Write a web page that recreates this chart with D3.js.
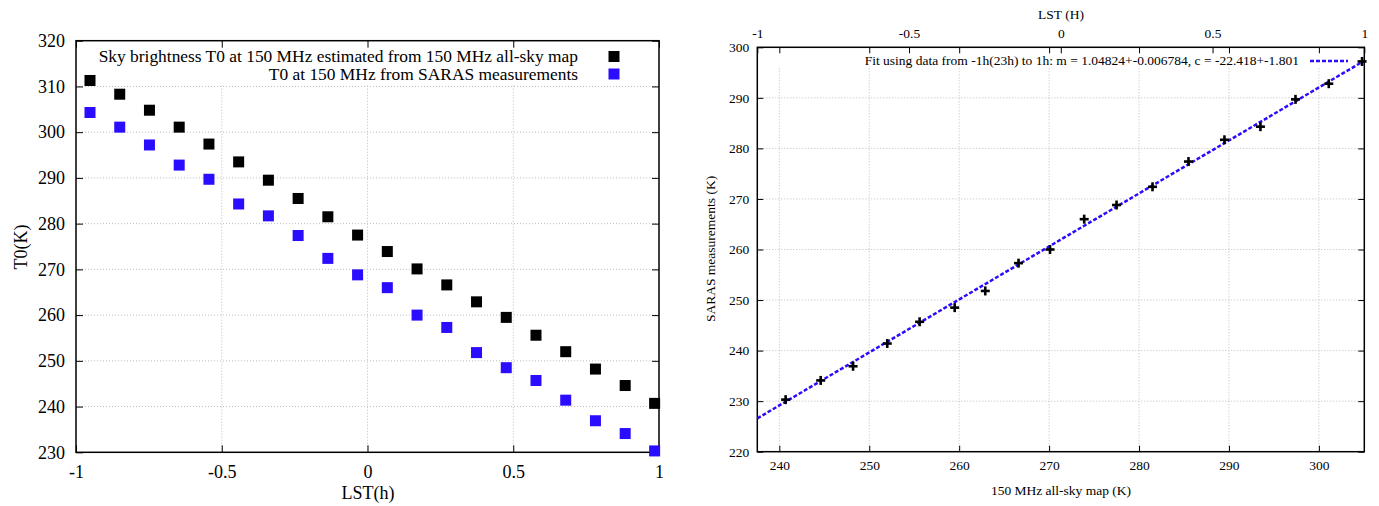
<!DOCTYPE html>
<html>
<head>
<meta charset="utf-8">
<script src="https://cdn.jsdelivr.net/npm/d3@7"></script>
<style>
  body { margin: 0; background: #fff; }
  svg { display: block; font-family: "Liberation Serif", "DejaVu Serif", serif; }
  .grid line { stroke: #bdbdbd; stroke-width: 1; stroke-dasharray: 1,2; }
</style>
</head>
<body>
<div id="chart-area"></div>
<script>
// LST (h) of each measurement
const LST = [-0.952, -0.850, -0.748, -0.646, -0.544, -0.442, -0.340, -0.238, -0.136, -0.034,
             0.068, 0.170, 0.272, 0.374, 0.476, 0.578, 0.680, 0.782, 0.884, 0.985]
// T0 from the 150 MHz all-sky map
const MAP_T0 = [311.3, 308.3, 304.8, 301.1, 297.4, 293.5, 289.5, 285.5, 281.5, 277.5,
                273.9, 270.1, 266.6, 262.9, 259.5, 255.6, 252.0, 248.2, 244.6, 240.7]
// T0 from SARAS
const SARAS_T0 = [304.3, 301.1, 297.2, 292.8, 289.7, 284.3, 281.7, 277.4, 272.4, 268.8,
                  266.0, 260.0, 257.3, 251.8, 248.5, 245.7, 241.4, 236.9, 234.1, 230.3]
// fit parameters from the key
const FIT_M = 1.04824
const FIT_C = -22.418

const LEFT_X_TICKS = [-1, -0.5, 0, 0.5, 1]
const LEFT_Y_TICKS = [230, 240, 250, 260, 270, 280, 290, 300, 310, 320]
const RIGHT_X_TICKS = [240, 250, 260, 270, 280, 290, 300]
const RIGHT_Y_TICKS = [220, 230, 240, 250, 260, 270, 280, 290, 300]
const LST_TICKS = [-1, -0.5, 0, 0.5, 1]

const BLUE = "#2a0cff"
const W = 1379, H = 506
const FS_L = 18, FS_R = 13.5

// plain hyphen minus, like gnuplot
const fmt = d => String(d)

const svg = d3.select('#chart-area')
    .append('svg')
    .attr('width', W)
    .attr('height', H)

// ---------- left panel ----------
const L = { left: 76, right: 659, top: 40.7, bottom: 452.3 }
const xL = d3.scaleLinear().domain([-1, 1]).range([L.left, L.right])
const yL = d3.scaleLinear().domain([230, 320]).range([L.bottom, L.top])

const gL = svg.append('g')

gL.append('g').attr('class', 'grid')
  .selectAll('line').data(LEFT_X_TICKS.slice(1, -1)).enter().append('line')
  .attr('x1', d => xL(d)).attr('x2', d => xL(d))
  .attr('y1', L.top).attr('y2', L.bottom)
gL.append('g').attr('class', 'grid')
  .selectAll('line').data(LEFT_Y_TICKS.slice(1, -1)).enter().append('line')
  .attr('x1', L.left).attr('x2', L.right)
  .attr('y1', d => yL(d)).attr('y2', d => yL(d))

// opaque key box
gL.append('rect')
  .attr('x', L.left + 1).attr('y', L.top + 1)
  .attr('width', L.right - L.left - 2).attr('height', 43)
  .attr('fill', '#fff')

function styleAxis(g, size) {
  g.select('.domain').remove()
  g.selectAll('.tick line').attr('stroke', '#000').attr('stroke-width', 1)
  g.selectAll('.tick text').attr('fill', '#000').attr('font-size', size)
    .style('font-family', '"Liberation Serif", serif')
}

gL.append('g')
  .attr('transform', `translate(0, ${L.bottom})`)
  .call(d3.axisBottom(xL).tickValues(LEFT_X_TICKS).tickFormat(fmt).tickSizeInner(-7).tickSizeOuter(0).tickPadding(12.5))
  .call(g => styleAxis(g, FS_L))
gL.append('g')
  .attr('transform', `translate(0, ${L.top})`)
  .call(d3.axisTop(xL).tickValues(LEFT_X_TICKS).tickFormat('').tickSizeInner(-7).tickSizeOuter(0))
  .call(g => styleAxis(g, FS_L))
gL.append('g')
  .attr('transform', `translate(${L.left}, 0)`)
  .call(d3.axisLeft(yL).tickValues(LEFT_Y_TICKS).tickFormat(fmt).tickSizeInner(-7).tickSizeOuter(0).tickPadding(11))
  .call(g => styleAxis(g, FS_L))
gL.append('g')
  .attr('transform', `translate(${L.right}, 0)`)
  .call(d3.axisRight(yL).tickValues(LEFT_Y_TICKS).tickFormat('').tickSizeInner(-7).tickSizeOuter(0))
  .call(g => styleAxis(g, FS_L))

gL.append('rect')
  .attr('x', L.left).attr('y', L.top)
  .attr('width', L.right - L.left).attr('height', L.bottom - L.top)
  .attr('fill', 'none').attr('stroke', '#000').attr('stroke-width', 1.5)

const SQ = 11
gL.selectAll('rect.map').data(MAP_T0).enter().append('rect')
  .attr('class', 'map')
  .attr('x', (d, i) => xL(LST[i]) - SQ / 2).attr('y', d => yL(d) - SQ / 2)
  .attr('width', SQ).attr('height', SQ).attr('fill', '#000')
gL.selectAll('rect.saras').data(SARAS_T0).enter().append('rect')
  .attr('class', 'saras')
  .attr('x', (d, i) => xL(LST[i]) - SQ / 2).attr('y', d => yL(d) - SQ / 2)
  .attr('width', SQ).attr('height', SQ).attr('fill', BLUE)

// key
const keyL = [
  { label: 'Sky brightness T0 at 150 MHz estimated from 150 MHz all-sky map', color: '#000', y: 56.5 },
  { label: 'T0 at 150 MHz from SARAS measurements', color: BLUE, y: 74 }
]
keyL.forEach(k => {
  gL.append('text').attr('x', 578).attr('y', k.y).attr('dy', '0.33em')
    .attr('text-anchor', 'end').attr('font-size', 17.4).text(k.label)
  gL.append('rect').attr('x', 614 - SQ / 2).attr('y', k.y - SQ / 2)
    .attr('width', SQ).attr('height', SQ).attr('fill', k.color)
})

gL.append('text').attr('x', 368).attr('y', 493).attr('dy', '0.33em')
  .attr('text-anchor', 'middle').attr('font-size', FS_L).text('LST(h)')
gL.append('text').attr('transform', 'translate(21, 247) rotate(-90)').attr('dy', '0.33em')
  .attr('text-anchor', 'middle').attr('font-size', FS_L).text('T0(K)')

// ---------- right panel ----------
const R = { left: 757.3, right: 1364.3, top: 47.3, bottom: 451.7 }
const xR = d3.scaleLinear().domain([237.55, 305.05]).range([R.left, R.right])
const x2R = d3.scaleLinear().domain([-1, 1]).range([R.left, R.right])
const yR = d3.scaleLinear().domain([220, 300]).range([R.bottom, R.top])

const gR = svg.append('g')

gR.append('g').attr('class', 'grid')
  .selectAll('line').data(RIGHT_X_TICKS).enter().append('line')
  .attr('x1', d => xR(d)).attr('x2', d => xR(d))
  .attr('y1', R.top).attr('y2', R.bottom)
gR.append('g').attr('class', 'grid')
  .selectAll('line').data(RIGHT_Y_TICKS.slice(1, -1)).enter().append('line')
  .attr('x1', R.left).attr('x2', R.right)
  .attr('y1', d => yR(d)).attr('y2', d => yR(d))

gR.append('rect')
  .attr('x', R.left + 1).attr('y', R.top + 1)
  .attr('width', R.right - R.left - 2).attr('height', 18)
  .attr('fill', '#fff')

gR.append('g')
  .attr('transform', `translate(0, ${R.bottom})`)
  .call(d3.axisBottom(xR).tickValues(RIGHT_X_TICKS).tickFormat(fmt).tickSizeInner(-6).tickSizeOuter(0).tickPadding(9))
  .call(g => styleAxis(g, FS_R))
gR.append('g')
  .attr('transform', `translate(0, ${R.top})`)
  .call(d3.axisTop(xR).tickValues(RIGHT_X_TICKS).tickFormat('').tickSizeInner(-6).tickSizeOuter(0))
  .call(g => styleAxis(g, FS_R))
gR.append('g')
  .attr('transform', `translate(0, ${R.top})`)
  .call(d3.axisTop(x2R).tickValues(LST_TICKS).tickFormat(fmt).tickSizeInner(-6).tickSizeOuter(0).tickPadding(9))
  .call(g => styleAxis(g, FS_R))
gR.append('g')
  .attr('transform', `translate(${R.left}, 0)`)
  .call(d3.axisLeft(yR).tickValues(RIGHT_Y_TICKS).tickFormat(fmt).tickSizeInner(-6).tickSizeOuter(0).tickPadding(8))
  .call(g => styleAxis(g, FS_R))
gR.append('g')
  .attr('transform', `translate(${R.right}, 0)`)
  .call(d3.axisRight(yR).tickValues(RIGHT_Y_TICKS).tickFormat('').tickSizeInner(-6).tickSizeOuter(0))
  .call(g => styleAxis(g, FS_R))

gR.append('rect')
  .attr('x', R.left).attr('y', R.top)
  .attr('width', R.right - R.left).attr('height', R.bottom - R.top)
  .attr('fill', 'none').attr('stroke', '#000').attr('stroke-width', 1.5)

// fit line across the panel
const fitDomain = xR.domain()
gR.append('line')
  .attr('x1', xR(fitDomain[0])).attr('y1', yR(FIT_M * fitDomain[0] + FIT_C))
  .attr('x2', xR(fitDomain[1])).attr('y2', yR(FIT_M * fitDomain[1] + FIT_C))
  .attr('stroke', BLUE).attr('stroke-width', 2.5).attr('stroke-dasharray', '4,2')

// points that fall inside the map range
const pairs = MAP_T0.map((d, i) => ({ x: d, y: SARAS_T0[i] }))
  .filter(d => d.x <= fitDomain[1])
const CR = 4.5
const cross = gR.selectAll('g.pt').data(pairs).enter().append('g')
  .attr('class', 'pt')
  .attr('transform', d => `translate(${xR(d.x)}, ${yR(d.y)})`)
cross.append('line').attr('x1', -CR).attr('x2', CR).attr('stroke', '#000').attr('stroke-width', 2.6)
cross.append('line').attr('y1', -CR).attr('y2', CR).attr('stroke', '#000').attr('stroke-width', 2.6)

// key
gR.append('text').attr('x', 1299).attr('y', 61).attr('dy', '0.33em')
  .attr('text-anchor', 'end').attr('font-size', FS_R)
  .text('Fit using data from -1h(23h) to 1h: m = 1.04824+-0.006784, c = -22.418+-1.801')
gR.append('line').attr('x1', 1310).attr('x2', 1348).attr('y1', 61).attr('y2', 61)
  .attr('stroke', BLUE).attr('stroke-width', 2.5).attr('stroke-dasharray', '4,2')

gR.append('text').attr('x', 1061).attr('y', 15).attr('dy', '0.33em')
  .attr('text-anchor', 'middle').attr('font-size', FS_R).text('LST (H)')
gR.append('text').attr('x', 1061).attr('y', 491).attr('dy', '0.33em')
  .attr('text-anchor', 'middle').attr('font-size', FS_R).text('150 MHz all-sky map (K)')
gR.append('text').attr('transform', 'translate(711, 249) rotate(-90)').attr('dy', '0.33em')
  .attr('text-anchor', 'middle').attr('font-size', FS_R).text('SARAS measurements (K)')
</script>
</body>
</html>
